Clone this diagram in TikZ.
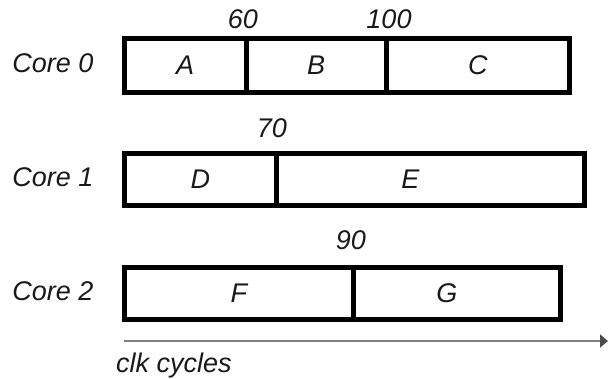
\documentclass[tikz,border=0pt]{standalone}
\usepackage{fontspec}
\setmainfont{Liberation Sans}
\usetikzlibrary{arrows.meta}
\begin{document}
\begin{tikzpicture}[x=1pt,y=-1pt,
  seg/.style={draw=black,line width=4.5pt,rectangle,inner sep=0pt,anchor=north west,
              font=\fontsize{27}{27}\selectfont\itshape,text=black!90},
  lbl/.style={font=\fontsize{27}{27}\selectfont\itshape,text=black!90,inner sep=0pt},
  axis/.style={draw=black!50,line width=2pt,
               -{Triangle[length=8pt,width=13pt,color=black!70,fill=black!70]}}]
\useasboundingbox (0,0) rectangle (608,378);

% core 0: A 0-60, B 60-100, C 100-
\node[seg,minimum width=122pt,minimum height=54pt] (A) at (122,36) {A};
\node[seg,minimum width=140pt,minimum height=54pt] (B) at (244,36) {B};
\node[seg,minimum width=183pt,minimum height=54pt] (C) at (384,36) {C};
% core 1: D 0-70, E 70-
\node[seg,minimum width=152pt,minimum height=52pt] (D) at (122,151) {D};
\node[seg,minimum width=308pt,minimum height=52pt,
      label={[lbl,xshift=-20pt]center:E}] (E) at (274,151) {};
% core 2: F 0-90, G 90-
\node[seg,minimum width=229pt,minimum height=52pt] (F) at (122,265) {F};
\node[seg,minimum width=207pt,minimum height=52pt,
      label={[lbl,xshift=-10pt]center:G}] (G) at (351,265) {};

% row labels
\node[lbl] (c0) at (53,63) {Core 0};
\node[lbl] (c1) at (53,177) {Core 1};
\node[lbl] (c2) at (53,291) {Core 2};

% boundary times
\node[lbl] (t60) at (243,19) {60};
\node[lbl] (t100) at (389,19) {100};
\node[lbl] (t70) at (272,128) {70};
\node[lbl] (t90) at (351,240) {90};

% time axis
\coordinate (ax0) at (124,341);
\coordinate (ax1) at (608,341);
\draw[axis] (ax0) -- (ax1);
\node[lbl,anchor=west] (clk) at (116,366) {clk cycles};
\end{tikzpicture}
\end{document}
